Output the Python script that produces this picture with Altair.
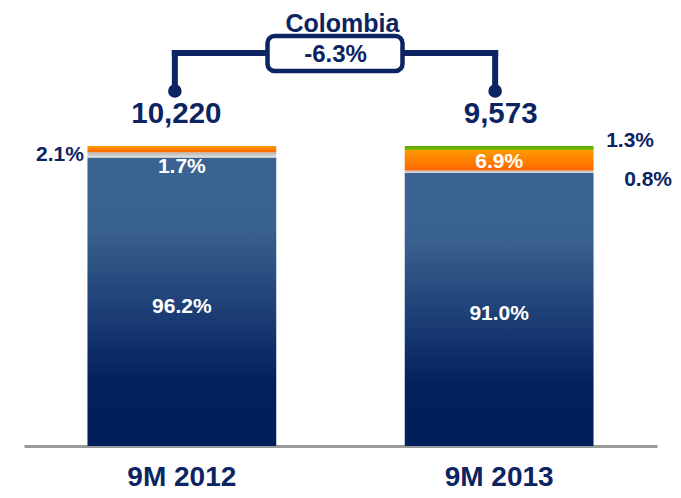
import altair as alt
import pandas as pd

# ---------------- data ----------------
periods = ["9M 2012", "9M 2013"]
totals = [10220, 9573]
title_text = "Colombia"
change_label = "-6.3%"
segments = ["Segment 1", "Segment 2", "Segment 3", "Segment 4"]
share_2012 = [96.2, 1.7, 2.1, 0.0]
share_2013 = [91.0, 0.8, 6.9, 1.3]

NAVY = "#0C2461"
FONT = "Liberation Sans"

rows = []
for p, shares in zip(periods, [share_2012, share_2013]):
    for i, (s, v) in enumerate(zip(segments, shares)):
        if v > 0:
            rows.append({"period": p, "segment": s, "value": v, "order": i})
df = pd.DataFrame(rows)
tot_df = pd.DataFrame({"period": periods, "total": totals})
bracket_df = pd.DataFrame({"period": [periods[0]], "period_end": [periods[1]]})
one = pd.DataFrame({"title": [title_text], "change": [change_label]})


def grad(stops):
    return alt.Gradient(
        gradient="linear", x1=0, y1=0, x2=0, y2=1,
        stops=[alt.GradientStop(color=c, offset=o) for o, c in stops],
    )


fills = {
    segments[0]: grad([(0, "#3B6391"), (0.24, "#3A6290"), (0.78, "#03205E"), (1, "#021F5C")]),
    segments[1]: grad([(0, "#B4B4B4"), (1, "#E2E2E2")]),
    segments[2]: grad([(0, "#FF9A00"), (1, "#FF6600")]),
    segments[3]: grad([(0, "#5FA000"), (1, "#7CC000")]),
}

X = alt.X(
    "period:N",
    title=None,
    scale=alt.Scale(domain=periods, paddingInner=0.405, paddingOuter=0.2),
    axis=alt.Axis(
        domainColor="#9A9A9A", domainWidth=3, ticks=False, grid=False, labelAngle=0,
        labelFont=FONT, labelFontWeight="bold", labelFontSize=28, labelColor=NAVY,
        labelBaseline="alphabetic", labelPadding=39,
    ),
)
YS = alt.Scale(domain=[0, 146])

base = (
    alt.Chart(df)
    .transform_stack(stack="value", groupby=["period"], as_=["y0", "y1"],
                     sort=[alt.SortField("order", order="ascending")])
    .transform_calculate(mid="(datum.y0 + datum.y1) / 2",
                         label="format(datum.value, '.1f') + '%'")
)

layers = []
for s in segments:
    layers.append(
        base.transform_filter(alt.datum.segment == s)
        .mark_bar(color=fills[s])
        .encode(x=X, y=alt.Y("y0:Q", scale=YS, axis=None), y2="y1:Q")
    )


def pct_label(period, seg, color, align, dx, dy):
    return (
        base.transform_filter((alt.datum.period == period) & (alt.datum.segment == seg))
        .mark_text(font=FONT, fontWeight="bold", fontSize=21, color=color,
                   align=align, dx=dx, dy=dy)
        .encode(x=X, y=alt.Y("mid:Q", scale=YS, axis=None), text="label:N")
    )


layers += [
    pct_label(periods[0], segments[0], "white", "center", 0, 5),
    pct_label(periods[1], segments[0], "white", "center", 0, 4),
    pct_label(periods[0], segments[1], "white", "center", 0, 12.5),
    pct_label(periods[0], segments[2], NAVY, "right", -98, 6),
    pct_label(periods[1], segments[2], "white", "center", 0, 1.5),
    pct_label(periods[1], segments[1], NAVY, "left", 125, 8),
    pct_label(periods[1], segments[3], NAVY, "left", 107, -7),
]

# bracket
bx = {periods[0]: -7, periods[1]: -4}
layers.append(
    alt.Chart(bracket_df)
    .mark_rule(color=NAVY, strokeWidth=6, strokeCap="square",
               xOffset=bx[periods[0]], x2Offset=bx[periods[1]])
    .encode(x=X, x2="period_end:N", y=alt.value(45))
)
for p in periods:
    pc = alt.Chart(tot_df).transform_filter(alt.datum.period == p)
    layers.append(
        pc.mark_rule(color=NAVY, strokeWidth=6, strokeCap="square", xOffset=bx[p])
        .encode(x=X, y=alt.value(45), y2=alt.value(83))
    )
    layers.append(
        pc.mark_point(filled=True, shape="circle", size=185, color=NAVY, opacity=1,
                      xOffset=bx[p])
        .encode(x=X, y=alt.value(83))
    )

# totals
tdx = {periods[0]: -5.5, periods[1]: 1.5}
for p in periods:
    layers.append(
        alt.Chart(tot_df).transform_filter(alt.datum.period == p)
        .mark_text(font=FONT, fontWeight="bold", fontSize=29.5, color=NAVY,
                   baseline="alphabetic", dx=tdx[p])
        .encode(x=X, y=alt.value(115), text=alt.Text("total:Q", format=","))
    )

# box with change label
layers.append(
    alt.Chart(one)
    .mark_rect(fill="white", stroke=NAVY, strokeWidth=4.5, cornerRadius=7)
    .encode(x=alt.value(243.5), x2=alt.value(378.5), y=alt.value(28), y2=alt.value(63))
)
layers.append(
    alt.Chart(one)
    .mark_text(font=FONT, fontWeight="bold", fontSize=24, color=NAVY, baseline="alphabetic")
    .encode(x=alt.value(311.5), y=alt.value(54), text="change:N")
)
layers.append(
    alt.Chart(one)
    .mark_text(font=FONT, fontWeight="bold", fontSize=25, color=NAVY, baseline="alphabetic")
    .encode(x=alt.value(318.5), y=alt.value(23.5), text="title:N")
)

chart = (
    alt.layer(*layers)
    .properties(
        width=633, height=438,
        autosize=alt.AutoSizeParams(type="none"),
        padding={"left": 16, "top": 0, "right": 16, "bottom": 44},
        background="white",
    )
    .configure_view(stroke=None)
)

chart.save("out.html", embed_options={"renderer": "svg", "actions": False})
